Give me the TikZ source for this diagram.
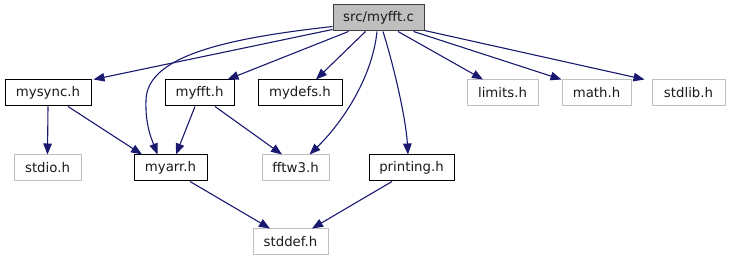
\documentclass[tikz,border=0pt]{standalone}
\usepackage{fontspec}
\setmainfont{DejaVu Sans}
\usetikzlibrary{arrows.meta}
\definecolor{edgecol}{HTML}{191970}
\definecolor{extgray}{HTML}{BFBFBF}
\definecolor{maingray}{HTML}{BFBFBF}
\definecolor{txt}{HTML}{1A1A1A}
\tikzset{
  box/.style={draw=black, line width=1pt, minimum height=26pt, inner sep=0pt, text=txt,
    font=\fontsize{13.3}{15}\selectfont},
  extbox/.style={box, draw=extgray},
  mainbox/.style={box, draw=black!75, fill=maingray},
  edge/.style={draw=edgecol, line width=1.1pt, -{Triangle[length=11pt,width=8.5pt]}},
}
\begin{document}
\begin{tikzpicture}[x=1pt,y=-1pt]
\useasboundingbox (0,0) rectangle (730,261);
\node[mainbox, minimum width=91pt] (main) at (378.5,18) {src/myfft.c};
\node[box, minimum width=86pt] (mysync) at (48,93) {mysync.h};
\node[box, minimum width=69pt] (myffth) at (199.5,93) {myfft.h};
\node[box, minimum width=84pt] (mydefs) at (300,93) {mydefs.h};
\node[extbox, minimum width=71pt] (limits) at (502.5,93) {limits.h};
\node[extbox, minimum width=69pt] (math) at (596.5,93) {math.h};
\node[extbox, minimum width=73pt] (stdlib) at (688.5,93) {stdlib.h};
\node[extbox, minimum width=67pt] (stdio) at (47.5,168) {stdio.h};
\node[box, minimum width=73pt] (myarr) at (170.5,168) {myarr.h};
\node[extbox, minimum width=67pt] (fftw3) at (295.5,168) {fftw3.h};
\node[box, minimum width=85pt] (printing) at (411.5,168) {printing.h};
\node[extbox, minimum width=75pt] (stddef) at (290.5,242) {stddef.h};

\draw[edge] ([yshift=2pt]main.south west) -- ([xshift=2pt]mysync.north east);
\draw[edge] ([yshift=5pt]main.south west) .. controls (230,38) and (147,55) .. (146,100)
  .. controls (145,125) and (152,140) .. ([xshift=-13pt]myarr.north);
\draw[edge] ([xshift=-30pt]main.south) -- ([xshift=28pt]myffth.north);
\draw[edge] ([xshift=-13pt]main.south) -- ([xshift=16pt]mydefs.north);
\draw[edge] ([xshift=-1.5pt]main.south) .. controls (372,80) and (340,125) .. ([xshift=14pt]fftw3.north);
\draw[edge] ([xshift=4.5pt]main.south) .. controls (395,70) and (406,120) .. ([xshift=-3.5pt]printing.north);
\draw[edge] ([xshift=19.5pt]main.south) -- ([xshift=-19.5pt]limits.north);
\draw[edge] ([xshift=-11pt]main.south east) -- (math.north west);
\draw[edge] ([yshift=1pt]main.south east) -- ([xshift=-7pt]stdlib.north west);
\draw[edge] (mysync.south) -- (stdio.north);
\draw[edge] ([xshift=20pt]mysync.south) -- ([xshift=-28.5pt]myarr.north);
\draw[edge] ([xshift=-4.5pt]myffth.south) -- ([xshift=5.5pt]myarr.north);
\draw[edge] ([xshift=15.5pt]myffth.south) -- ([xshift=-13.5pt]fftw3.north);
\draw[edge] ([xshift=19.5pt]myarr.south) -- ([xshift=-20.5pt]stddef.north);
\draw[edge] ([xshift=-19.5pt]printing.south) -- ([xshift=21.5pt]stddef.north);
\end{tikzpicture}
\end{document}
